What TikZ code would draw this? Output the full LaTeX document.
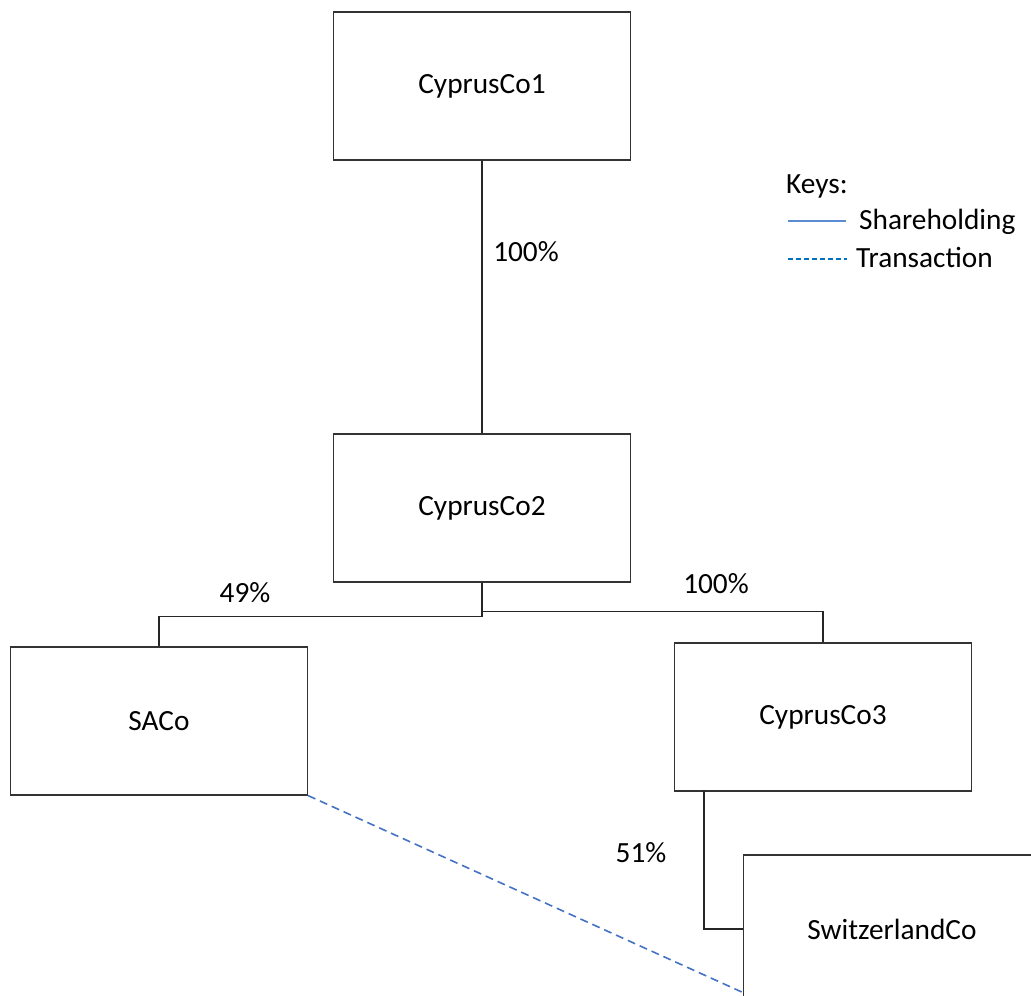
\documentclass[tikz,border=0pt]{standalone}
\usepackage{fontspec}
\setmainfont{Carlito}
\definecolor{linkblue}{RGB}{68,114,196}
\definecolor{keyblue}{RGB}{91,139,208}
\definecolor{keydash}{RGB}{0,112,192}
\begin{document}
\begin{tikzpicture}[x=1pt,y=-1pt,
  company/.style={draw=black!80,line width=1.2pt,fill=white,minimum width=297pt,minimum height=148pt,inner sep=0pt,font=\fontsize{29.3}{35}\selectfont},
  share/.style={draw=black!85,line width=1.2pt},
  trans/.style={draw=linkblue,line width=1.6pt,dash pattern=on 8pt off 5pt},
  pct/.style={font=\fontsize{29.3}{35}\selectfont,inner sep=0pt},
  keytext/.style={font=\fontsize{29.3}{35}\selectfont,inner sep=0pt,anchor=west}]
\useasboundingbox (0,0) rectangle (1031,996);
\clip (0,0) rectangle (1031,996);
\fill[white] (0,0) rectangle (1031,996);

% companies
\node[company] (c1) at (482,86) {CyprusCo1};
\node[company] (c2) at (482,508) {CyprusCo2};
\node[company] (sa) at (159,721) {SACo};
\node[company] (c3) at (823,717) {CyprusCo3};
\node[company] (sw) at (892,929) {SwitzerlandCo};

% shareholdings
\draw[share] (c1.south) -- (c2.north);
\draw[share] (c2.south) -- ++(0,34) -| (sa.north);
\draw[share] (c2.south) -- ++(0,29) -| (c3.north);
\coordinate (c3out) at (704,791);
\draw[share] (c3out) |- (sw.west);

% transaction
\coordinate (swin) at (744,993);
\draw[trans] (sa.south east) -- (swin);

% percentages
\node[pct] (p1) at (526,252) {100\%};
\node[pct] (p2) at (245,593) {49\%};
\node[pct] (p3) at (716,584) {100\%};
\node[pct] (p4) at (641,853) {51\%};

% key
\node[keytext] (k0) at (786,186) {Keys:};
\coordinate (ks1) at (788,221);
\coordinate (ke1) at (846,221);
\draw[draw=keyblue,line width=1.4pt] (ks1) -- (ke1);
\node[keytext] (k1) at (859,222) {Shareholding};
\coordinate (ks2) at (788,259);
\coordinate (ke2) at (847,259);
\draw[draw=keydash,line width=1.4pt,dash pattern=on 5pt off 3pt] (ks2) -- (ke2);
\node[keytext] (k2) at (856,257) {Transaction};
\end{tikzpicture}
\end{document}
